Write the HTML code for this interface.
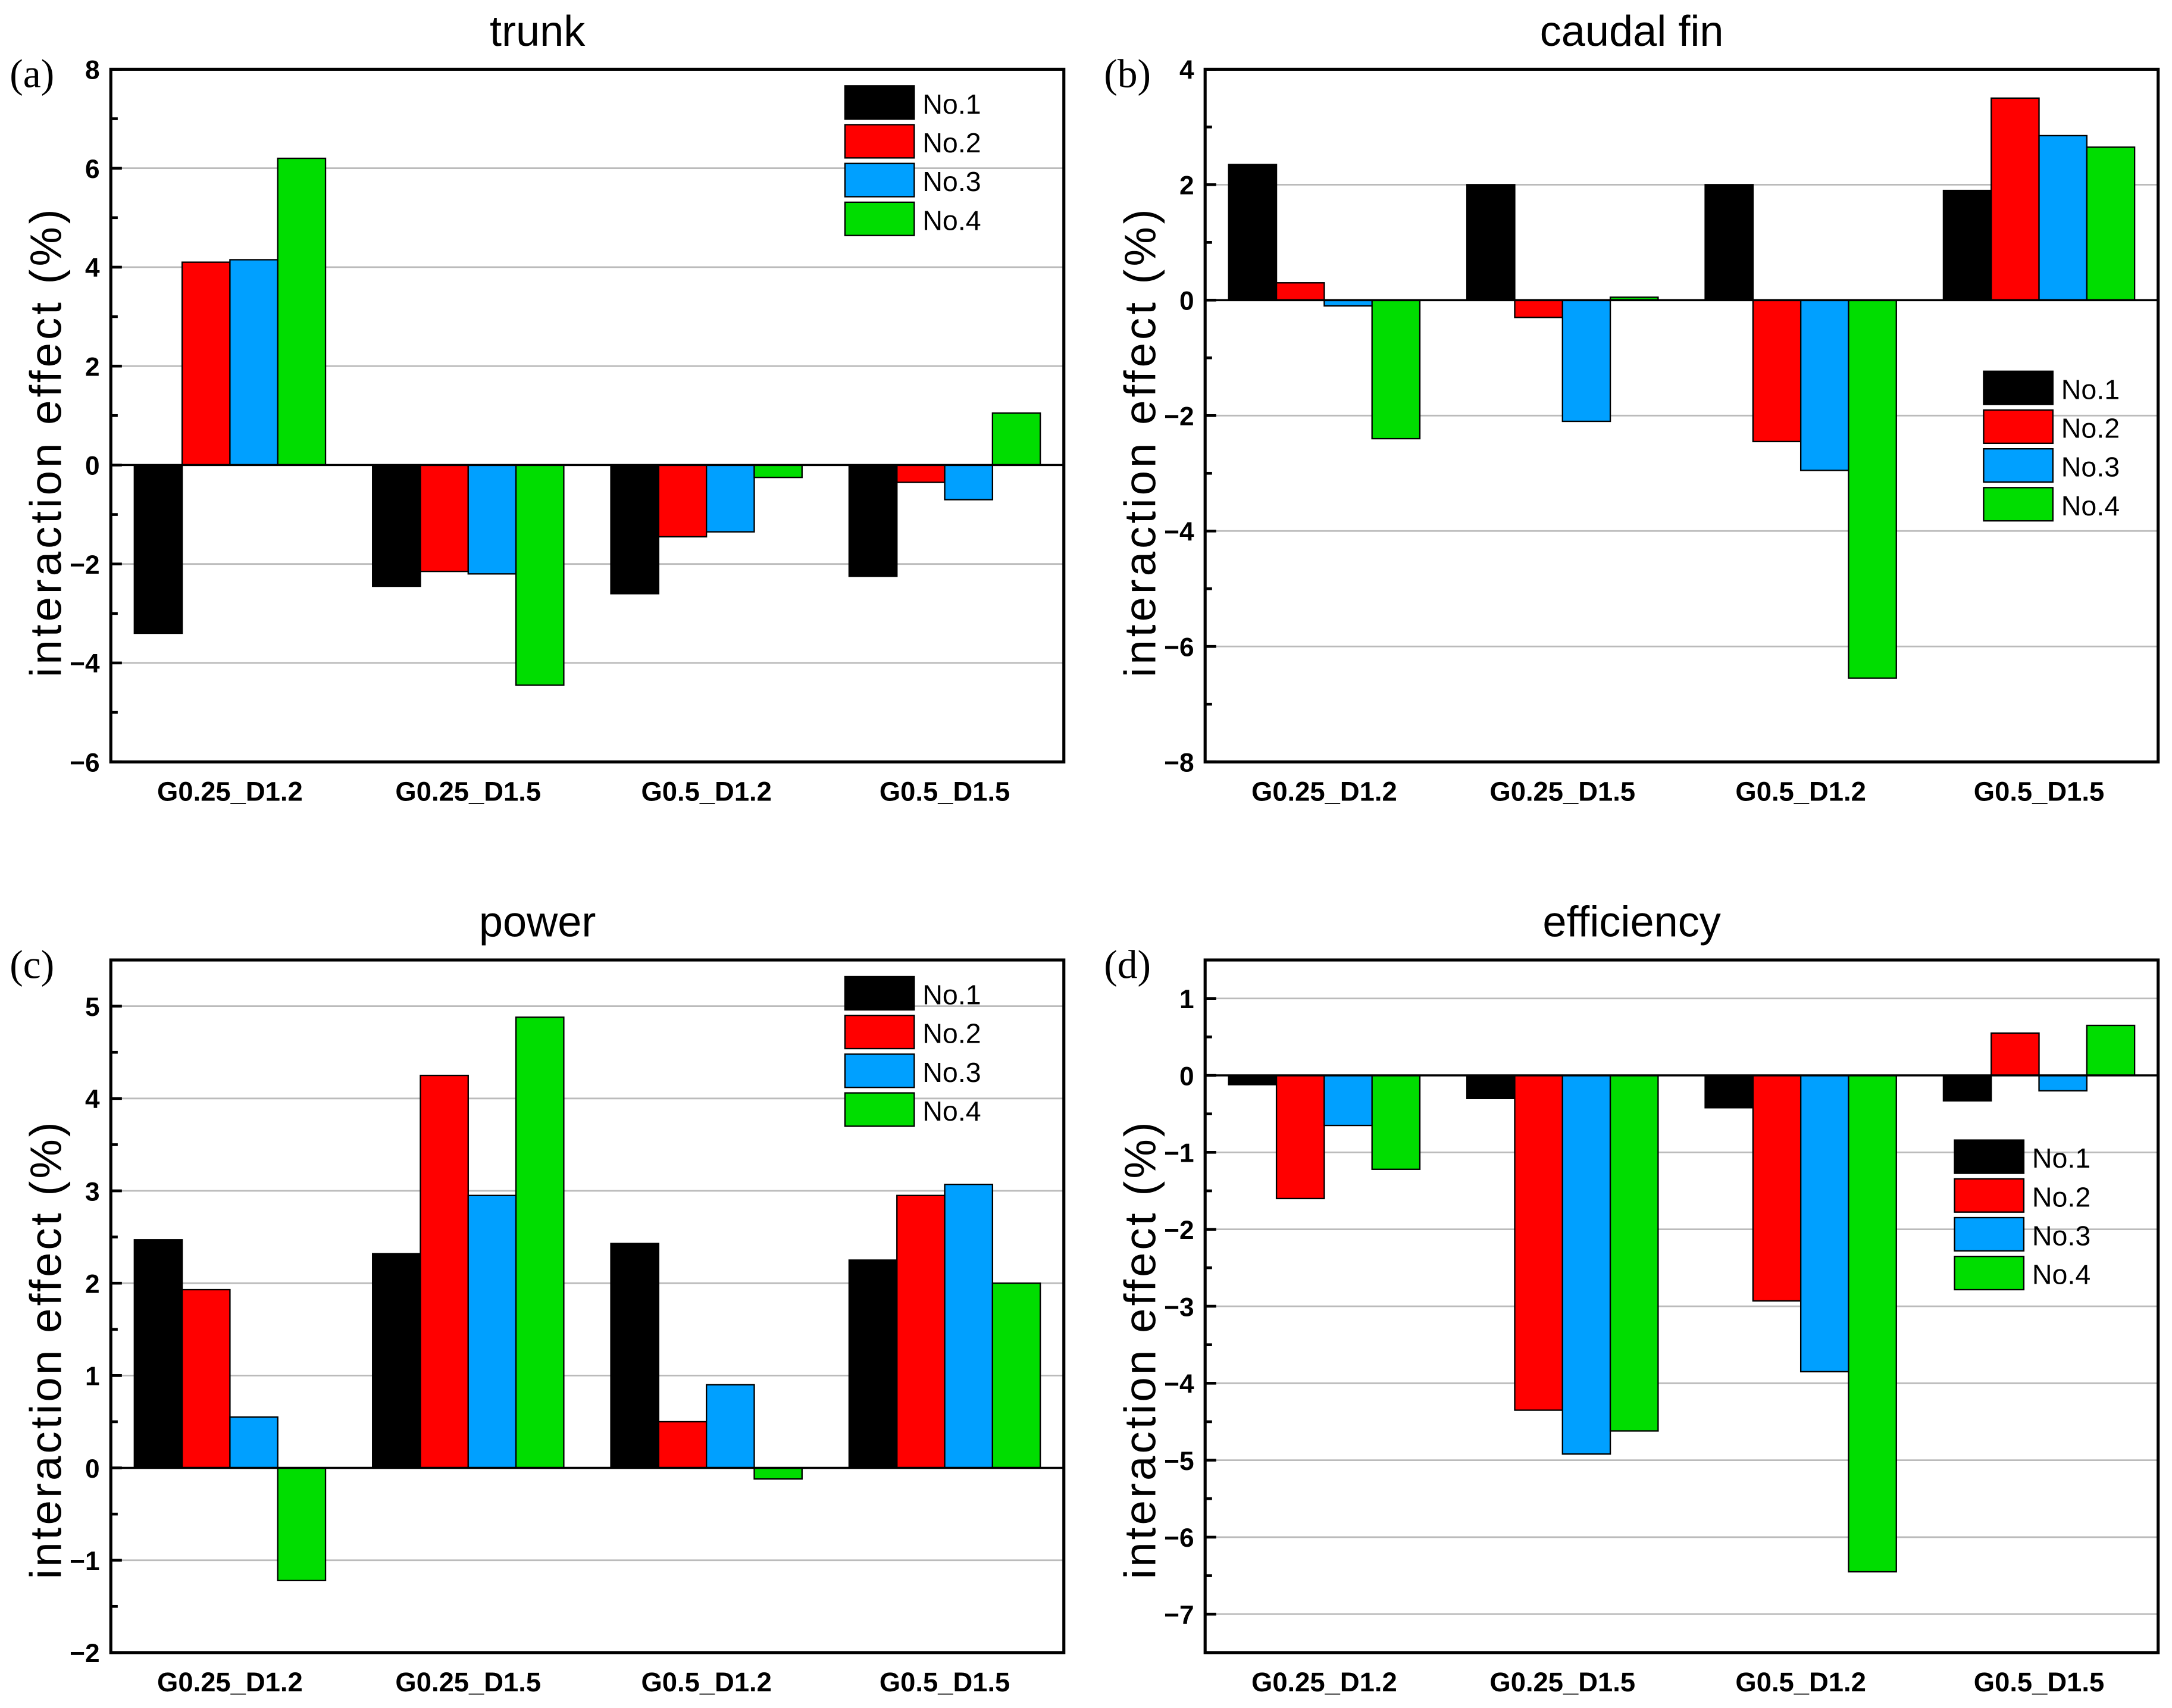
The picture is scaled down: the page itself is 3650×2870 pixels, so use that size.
<!DOCTYPE html>
<html><head><meta charset="utf-8"><style>
html,body{margin:0;padding:0;background:#fff;}
svg{display:block;}
text{font-family:"Liberation Sans",Arial,sans-serif;}
</style></head><body>
<svg id="fig" width="3650" height="2870" viewBox="0 0 1568 1233" preserveAspectRatio="none" xmlns="http://www.w3.org/2000/svg"></svg>
<script>
const categories = ["G0.25_D1.2","G0.25_D1.5","G0.5_D1.2","G0.5_D1.5"];
const seriesNames = ["No.1","No.2","No.3","No.4"];
const seriesColors = ["#000000","#ff0000","#00a0ff","#00dd00"];
// values[series][category]
const trunkValues = [[-3.4,-2.45,-2.6,-2.25],[4.1,-2.15,-1.45,-0.35],[4.15,-2.2,-1.35,-0.7],[6.2,-4.45,-0.25,1.05]];
const caudalValues = [[2.35,2.0,2.0,1.9],[0.3,-0.3,-2.45,3.5],[-0.1,-2.1,-2.95,2.85],[-2.4,0.05,-6.55,2.65]];
const powerValues = [[2.47,2.32,2.43,2.25],[1.93,4.25,0.5,2.95],[0.55,2.95,0.9,3.07],[-1.22,4.88,-0.12,2.0]];
const efficiencyValues = [[-0.12,-0.3,-0.42,-0.33],[-1.6,-4.35,-2.93,0.55],[-0.65,-4.92,-3.85,-0.2],[-1.22,-4.62,-6.45,0.65]];
const trunkTicks = [-6,-4,-2,0,2,4,6,8];
const caudalTicks = [-8,-6,-4,-2,0,2,4];
const powerTicks = [-2,-1,0,1,2,3,4,5];
const efficiencyTicks = [-7,-6,-5,-4,-3,-2,-1,0,1];

const NS="http://www.w3.org/2000/svg";
const svg=document.getElementById('fig');
function mk(tag,attrs,parent){const e=document.createElementNS(NS,tag);for(const k in attrs)e.setAttribute(k,attrs[k]);(parent||svg).appendChild(e);return e;}

const panels=[
 {id:'trunk',label:'(a)',title:'trunk',x:80,y:50,w:688,h:500,min:-6,max:8,ticks:trunkTicks,minor:1,vals:trunkValues,leg:[610,62]},
 {id:'caudal-fin',label:'(b)',title:'caudal fin',x:870,y:50,w:688,h:500,min:-8,max:4,ticks:caudalTicks,minor:1,vals:caudalValues,leg:[1432,268]},
 {id:'power',label:'(c)',title:'power',x:80,y:693,w:688,h:500,min:-2,max:5.5,ticks:powerTicks,minor:0.5,vals:powerValues,leg:[610,705]},
 {id:'efficiency',label:'(d)',title:'efficiency',x:870,y:693,w:688,h:500,min:-7.5,max:1.5,ticks:efficiencyTicks,minor:0.5,vals:efficiencyValues,leg:[1411,823]}
];

panels.forEach(p=>{
 const g=mk('g',{});
 
 
 const yS=v=>p.y+(p.max-v)/(p.max-p.min)*p.h;
 const gw=p.w/categories.length, bw=34.5;
 const xC=i=>p.x+gw*(i+0.5);
 p.ticks.forEach(t=>{
  if(t!==0){const l=mk('line',{x1:p.x,x2:p.x+p.w,y1:yS(t),y2:yS(t),stroke:'#bbbbbb','stroke-width':1.2},g);
  }
 });
 p.vals.forEach((ser,s)=>{
  ser.forEach((v,i)=>{
   const x=xC(i)-2*bw+s*bw;
   const y0=yS(0),y1=yS(v);
   const r=mk('rect',{x:x,y:Math.min(y0,y1),width:bw,height:Math.abs(y1-y0),fill:seriesColors[s],stroke:'#000','stroke-width':1},g);
   
   
  });
 });
 const z=mk('line',{x1:p.x,x2:p.x+p.w,y1:yS(0),y2:yS(0),stroke:'#000','stroke-width':1.5},g);
 
 const f=mk('rect',{x:p.x,y:p.y,width:p.w,height:p.h,fill:'none',stroke:'#000','stroke-width':2.2},g);
 
 for(let v=p.min;v<=p.max+1e-9;v+=p.minor){
  const major=p.ticks.some(t=>Math.abs(t-v)<1e-9);
  const tk=mk('line',{x1:p.x,x2:p.x+(major?8:5),y1:yS(v),y2:yS(v),stroke:'#000','stroke-width':2},g);
  
 }
 p.ticks.forEach(t=>{
  const tx=mk('text',{x:p.x-8,y:yS(t)+7,'text-anchor':'end','font-size':19,'font-weight':'bold'},g);
  tx.textContent=t<0?'\u2212'+(-t):String(t);
  
 });
 categories.forEach((c,i)=>{
  const tx=mk('text',{x:xC(i),y:p.y+p.h+28,'text-anchor':'middle','font-size':19.5,'font-weight':'bold'},g);
  tx.textContent=c;
  
 });
 const tt=mk('text',{x:p.x+308,y:p.y-17,'text-anchor':'middle','font-size':31},g);
 tt.textContent=p.title;
 
 const lb=mk('text',{x:p.x-73,y:p.y+13,'font-size':29},g);
 lb.textContent=p.label;lb.style.fontFamily='"Liberation Serif",serif';
 
 const lower=(p.id==='power'||p.id==='efficiency');
 const cy=p.y+p.h/2+(lower?32:20);
 const yl=mk('text',{x:0,y:0,'text-anchor':'middle','font-size':32,textLength:lower?330:338,lengthAdjust:'spacing',transform:`translate(${p.x-36},${cy}) rotate(-90)`},g);
 yl.textContent=lower?'interaction effect  (%)':'interaction effect (%)';
 
 seriesNames.forEach((n,s)=>{
  const ly=p.leg[1]+s*28;
  const sw=mk('rect',{x:p.leg[0],y:ly,width:50,height:24,fill:seriesColors[s],stroke:'#000','stroke-width':1},g);
  
  const lt=mk('text',{x:p.leg[0]+56,y:ly+20,'font-size':20},g);
  lt.textContent=n;
  
 });
});
</script>
</body></html>
